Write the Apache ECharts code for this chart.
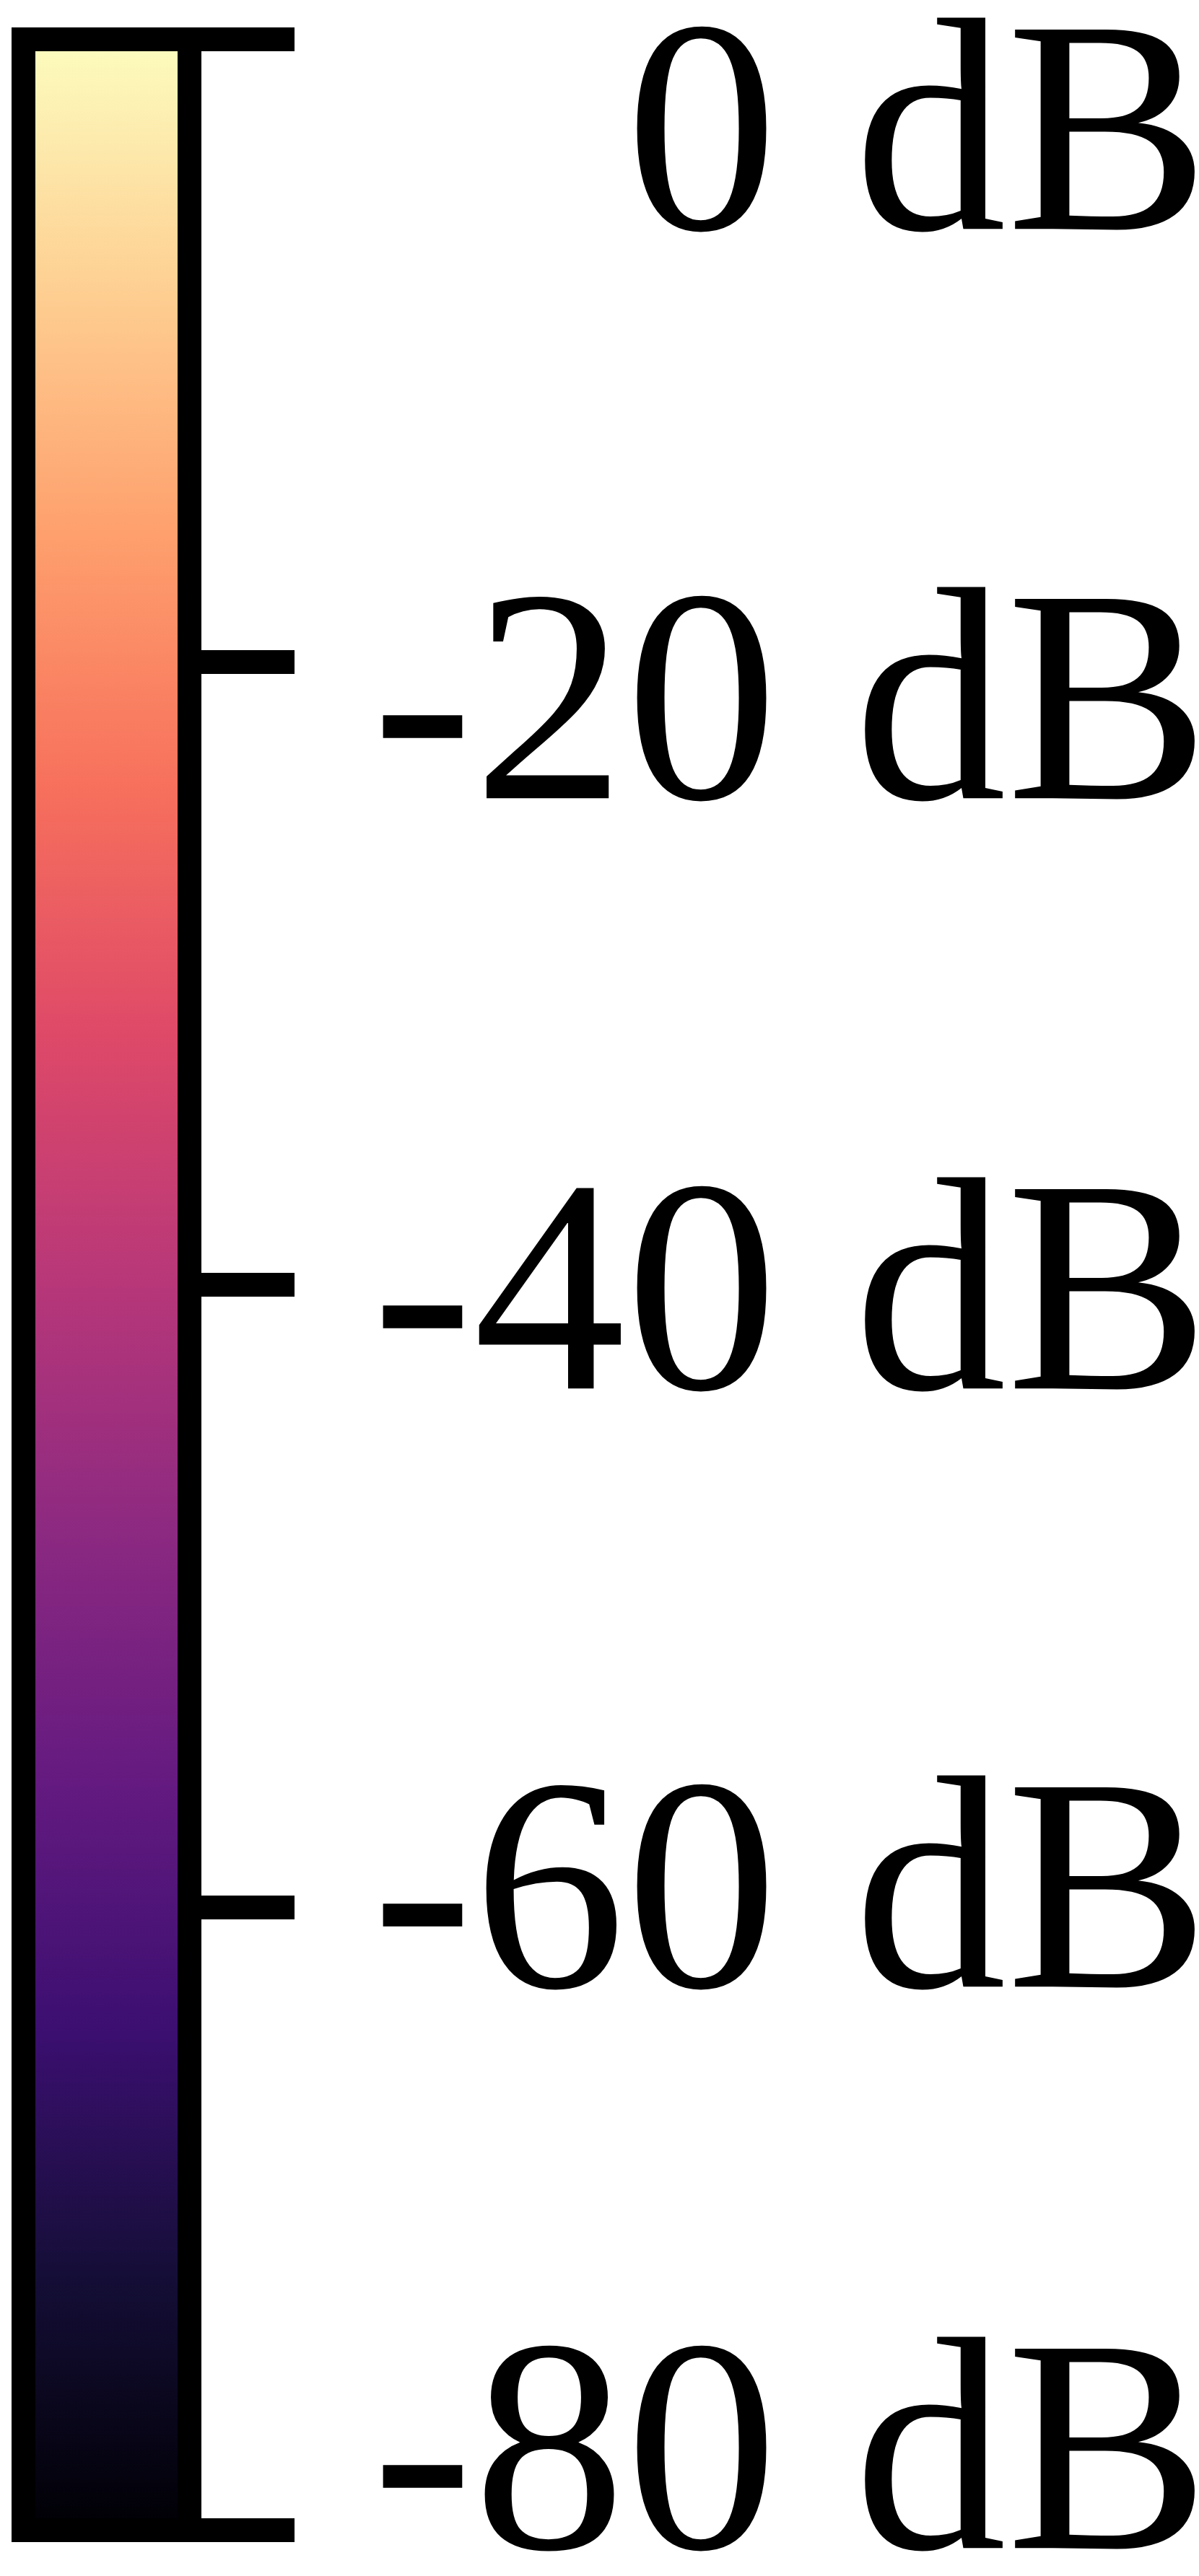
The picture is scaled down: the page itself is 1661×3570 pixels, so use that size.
<!DOCTYPE html>
<html>
<head>
<meta charset="utf-8">
<style>
  html, body { margin: 0; padding: 0; background: #ffffff; }
  #chart { width: 1661px; height: 3570px; }
</style>
<script src="https://cdn.jsdelivr.net/npm/echarts@6/dist/echarts.min.js"></script>
</head>
<body>
<div id="chart"></div>
<script>
// ---- data ----
const rangeMin = -80;            // dB, bottom of colour bar
const rangeMax = 0;              // dB, top of colour bar
const tickStep = 20;             // dB between ticks
const tickValues = [-80, -60, -40, -20, 0];
const tickLabels = ['-80 dB', '-60 dB', '-40 dB', '-20 dB', '0 dB'];
// magma colormap, from low (0) to high (1)
const magmaColors = ['#000004', '#140e36', '#3b0f70', '#641a80', '#8c2981',
                     '#b73779', '#de4968', '#f7705c', '#fe9f6d', '#fecf92', '#fcfdbf'];
const barCategory = ['level'];

// ---- style (label vertical nudges, px; + = down) ----
const labelShift = { '0': 152, '-20': 78, '-40': 33, '-60': -1, '-80': -86 };
const labelFontSize = 422;

const rich = {};
tickValues.forEach(function (v, i) {
  const s = labelShift[String(v)] || 0;
  rich['l' + i] = {
    fontFamily: 'Liberation Serif',
    fontSize: labelFontSize,
    color: '#000000',
    padding: [s > 0 ? 2 * s : 0, 0, s < 0 ? -2 * s : 0, 0]
  };
});

// gradient from top (high dB, light) to bottom (low dB, dark)
const stops = magmaColors.map(function (c, i) {
  return { offset: 1 - i / (magmaColors.length - 1), color: c };
}).reverse();

const chart = echarts.init(document.getElementById('chart'), null, { renderer: 'canvas' });
chart.setOption({
  animation: false,
  backgroundColor: '#ffffff',
  grid: {
    left: 32.5,
    top: 54.5,
    width: 230,
    height: 3452,
    show: true,
    borderColor: '#000000',
    borderWidth: 33,
    backgroundColor: 'transparent',
    z: 10,
    containLabel: false,
    outerBoundsMode: 'none'
  },
  xAxis: {
    type: 'category',
    data: barCategory,
    show: false,
    boundaryGap: true
  },
  yAxis: {
    type: 'value',
    position: 'right',
    min: rangeMin,
    max: rangeMax,
    interval: tickStep,
    splitLine: { show: false },
    axisLine: { show: false },
    axisTick: {
      show: true,
      inside: false,
      length: 145.5,
      lineStyle: { color: '#000000', width: 33 }
    },
    axisLabel: {
      show: true,
      showMinLabel: true,
      showMaxLabel: true,
      hideOverlap: false,
      margin: 1413,
      align: 'right',
      verticalAlign: 'middle',
      fontFamily: 'Liberation Serif',
      fontSize: labelFontSize,
      color: '#000000',
      formatter: function (value) {
        const i = tickValues.indexOf(value);
        return i < 0 ? '' : '{l' + i + '|' + tickLabels[i] + '}';
      },
      rich: rich
    }
  },
  series: [{
    type: 'bar',
    data: [rangeMin],
    barWidth: '100%',
    barCategoryGap: 0,
    z: 1,
    itemStyle: {
      color: new echarts.graphic.LinearGradient(0, 0, 0, 1, stops)
    }
  }]
});
</script>
</body>
</html>
